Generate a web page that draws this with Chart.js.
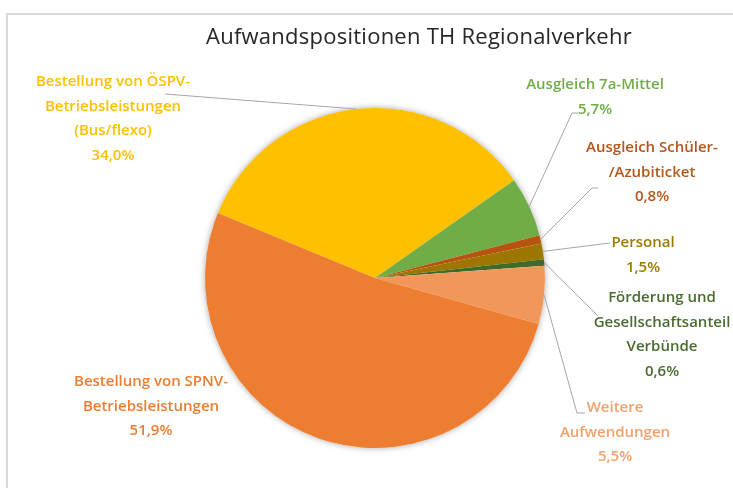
<!DOCTYPE html>
<html>
<head>
<meta charset="utf-8">
<script src="https://cdn.jsdelivr.net/npm/chart.js@4/dist/chart.umd.min.js"></script>
<style>
  body { margin: 0; background: #fff; }
  #wrap { width: 733px; height: 488px; position: relative; }
</style>
</head>
<body>
<div id="wrap"><canvas id="pie"></canvas></div>
<script>
// data, clockwise from the yellow slice
const chartTitle = 'Aufwandspositionen TH Regionalverkehr';
const categories = [
  'Bestellung von ÖSPV-Betriebsleistungen (Bus/flexo)',
  'Ausgleich 7a-Mittel',
  'Ausgleich Schüler-/Azubiticket',
  'Personal',
  'Förderung und Gesellschaftsanteil Verbünde',
  'Weitere Aufwendungen',
  'Bestellung von SPNV-Betriebsleistungen'
];
const shares = [34.0, 5.7, 0.8, 1.5, 0.6, 5.5, 51.9];
const labelLines = [
  ['Bestellung von ÖSPV-', 'Betriebsleistungen', '(Bus/flexo)'],
  ['Ausgleich 7a-Mittel'],
  ['Ausgleich Schüler-', '/Azubiticket'],
  ['Personal'],
  ['Förderung und', 'Gesellschaftsanteil', 'Verbünde'],
  ['Weitere', 'Aufwendungen'],
  ['Bestellung von SPNV-', 'Betriebsleistungen']
];

const sliceColors = ['#FFC000', '#70AD47', '#B8520F', '#9C7600', '#3F6B2A', '#F1975A', '#ED7D31'];
const labelColors = ['#FFC000', '#70AD47', '#B5561A', '#9C7A00', '#4A6B2E', '#F4A06A', '#ED7D31'];

// where the labels sit and where their leader lines end
const labelLayout = [
  { x: 113, y: 82, lead: [[165, 94]] },
  { x: 595, y: 85, lead: [[572, 113], [578, 113]] },
  { x: 652, y: 148, lead: [[592, 188], [598, 188]] },
  { x: 643, y: 243, lead: [[610, 243]] },
  { x: 662, y: 298, lead: [[598, 316]] },
  { x: 615, y: 408, lead: [[577, 413], [585, 413]] },
  { x: 151, y: 382, lead: null }
];
const lineGap = 24.5;
const labelFont = '600 15px "Open Sans"';

const fmt = v => v.toFixed(1).replace('.', ',') + '%';

const framePlugin = {
  id: 'frame',
  beforeDraw(chart) {
    const ctx = chart.ctx;
    ctx.save();
    ctx.strokeStyle = '#D9D9D9';
    ctx.lineWidth = 2;
    ctx.strokeRect(7, 14, 800, 600);
    // title, stretched a bit to the width of the original
    ctx.fillStyle = '#262626';
    ctx.font = '22px "Open Sans"';
    ctx.textAlign = 'left';
    ctx.textBaseline = 'alphabetic';
    const w = ctx.measureText(chartTitle).width;
    const extra = Math.max(0, (426 - w) / chartTitle.length);
    if ('letterSpacing' in ctx) ctx.letterSpacing = extra.toFixed(2) + 'px';
    ctx.fillText(chartTitle, 206, 43.5);
    ctx.restore();
  }
};

const shadowPlugin = {
  id: 'pieShadow',
  beforeDatasetsDraw(chart) {
    const a = chart.getDatasetMeta(0).data[0];
    const ctx = chart.ctx;
    ctx.save();
    ctx.shadowColor = 'rgba(0,0,0,0.35)';
    ctx.shadowBlur = 6;
    ctx.fillStyle = '#fff';
    ctx.beginPath();
    ctx.arc(a.x, a.y, a.outerRadius, 0, Math.PI * 2);
    ctx.fill();
    ctx.restore();
  }
};

const labelPlugin = {
  id: 'outLabels',
  afterDatasetsDraw(chart) {
    const ctx = chart.ctx;
    const arcs = chart.getDatasetMeta(0).data;
    ctx.save();
    arcs.forEach((arc, i) => {
      const mid = (arc.startAngle + arc.endAngle) / 2;
      const ax = arc.x + Math.cos(mid) * arc.outerRadius;
      const ay = arc.y + Math.sin(mid) * arc.outerRadius;
      const lay = labelLayout[i];
      if (lay.lead) {
        ctx.strokeStyle = '#A6A6A6';
        ctx.lineWidth = 1;
        ctx.beginPath();
        ctx.moveTo(ax, ay);
        lay.lead.forEach(p => ctx.lineTo(p[0], p[1]));
        ctx.stroke();
      }
      ctx.fillStyle = labelColors[i];
      ctx.font = labelFont;
      ctx.textAlign = 'center';
      ctx.textBaseline = 'middle';
      const lines = labelLines[i].concat([fmt(shares[i])]);
      lines.forEach((t, k) => ctx.fillText(t, lay.x, lay.y + k * lineGap));
    });
    ctx.restore();
  }
};

new Chart(document.getElementById('pie'), {
  type: 'pie',
  data: {
    labels: categories,
    datasets: [{
      data: shares,
      backgroundColor: sliceColors,
      borderWidth: 0
    }]
  },
  options: {
    responsive: true,
    maintainAspectRatio: false,
    animation: false,
    rotation: -67.5,
    layout: { padding: { left: 205, right: 188, top: 108, bottom: 40 } },
    plugins: {
      legend: { display: false },
      tooltip: { enabled: false },
      title: { display: false }
    }
  },
  plugins: [framePlugin, shadowPlugin, labelPlugin]
});
</script>
</body>
</html>
